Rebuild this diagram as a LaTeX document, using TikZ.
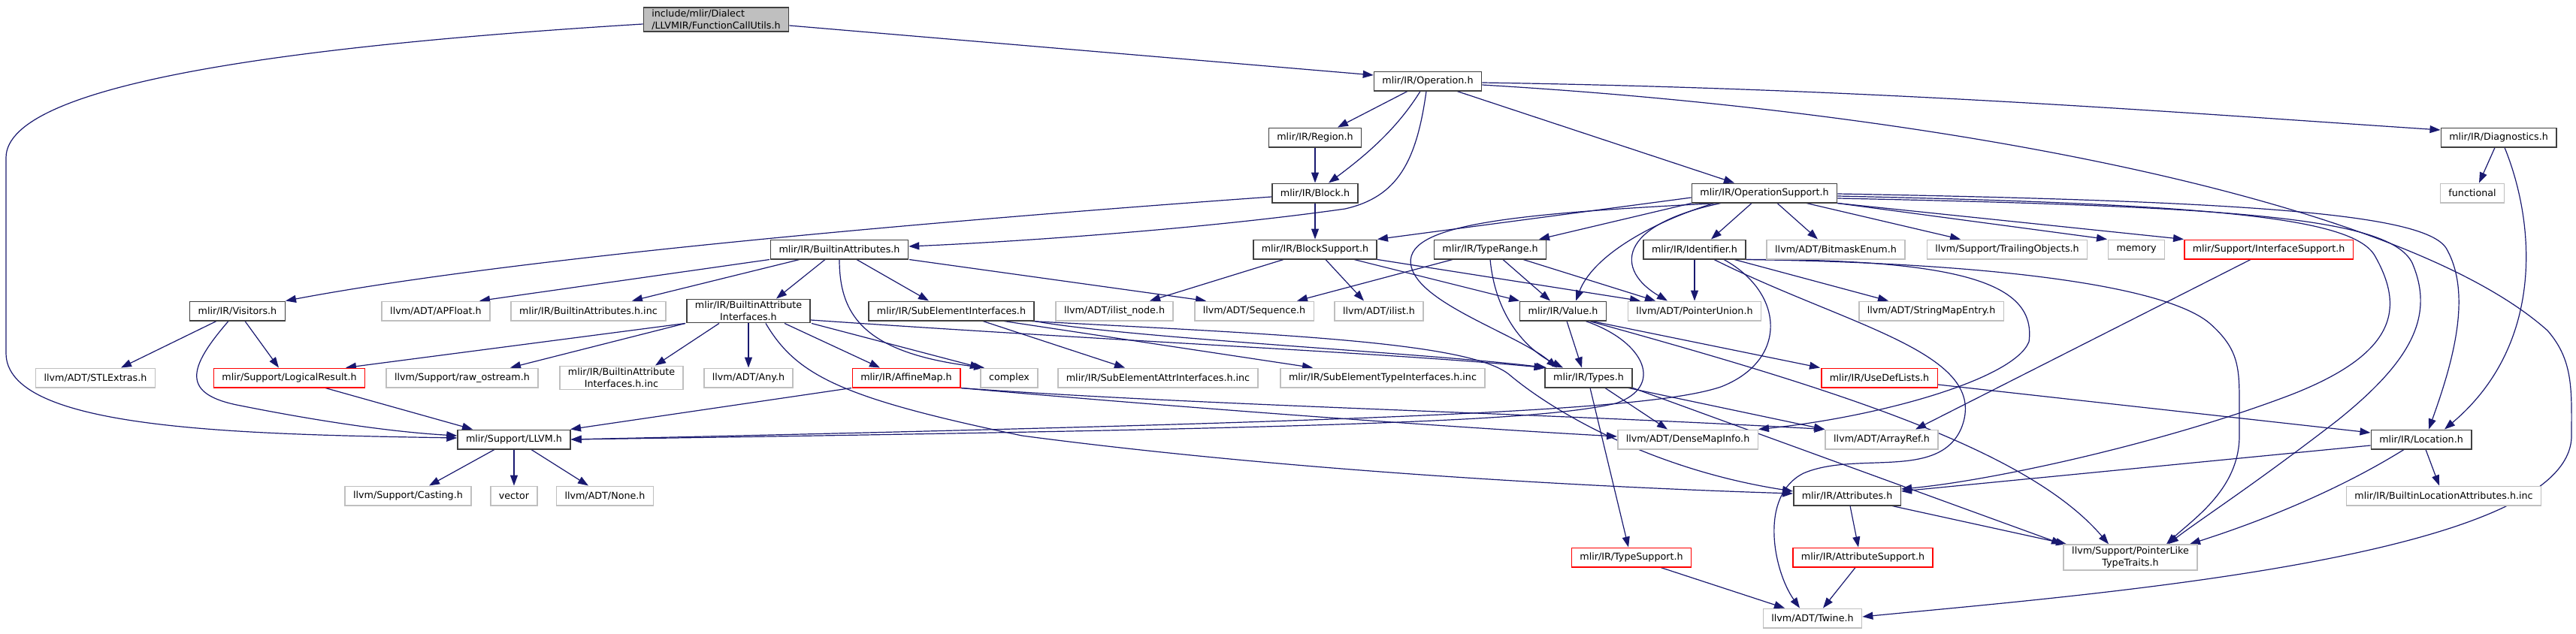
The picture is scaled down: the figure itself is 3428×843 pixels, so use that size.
\documentclass[tikz,border=0pt]{standalone}
\usepackage{fontspec}
\setmainfont{DejaVu Sans}
\usetikzlibrary{arrows.meta,backgrounds}
\definecolor{edgeblue}{RGB}{25,25,112}
\definecolor{boxgrey}{RGB}{191,191,191}
\definecolor{boxdark}{RGB}{64,64,64}
\definecolor{boxred}{RGB}{255,0,0}
\tikzset{
  hbox/.style={draw=boxdark,line width=1.5pt,fill=white,inner xsep=11pt,inner ysep=3pt,
    minimum height=25.5pt,align=center,font=\fontsize{12.7}{15.6}\selectfont},
  sysbox/.style={hbox,draw=boxgrey},
  cutbox/.style={hbox,draw=boxred},
  rootbox/.style={hbox,fill=boxgrey,align=left},
  dep/.style={draw=edgeblue,line width=1.2pt,-{Triangle[length=14pt,width=10pt]}},
}

\begin{document}
\begin{tikzpicture}[x=1pt,y=-1pt]
\useasboundingbox (0,0) rectangle (3428,843);
\node[rootbox] (fcu) at (953,26) {include/mlir/Dialect\\/LLVMIR/FunctionCallUtils.h};
\node[hbox] (op) at (1900,108) {mlir/IR/Operation.h};
\node[hbox] (region) at (1750,183) {mlir/IR/Region.h};
\node[hbox] (diag) at (3325,183) {mlir/IR/Diagnostics.h};
\node[hbox] (block) at (1750,257) {mlir/IR/Block.h};
\node[hbox] (opsup) at (2348,257) {mlir/IR/OperationSupport.h};
\node[sysbox] (functional) at (3290,257) {functional};
\node[hbox] (ba) at (1117,332) {mlir/IR/BuiltinAttributes.h};
\node[hbox] (blocksup) at (1750,332) {mlir/IR/BlockSupport.h};
\node[hbox] (typerange) at (1983,332) {mlir/IR/TypeRange.h};
\node[hbox] (ident) at (2255,332) {mlir/IR/Identifier.h};
\node[sysbox] (bitmask) at (2443,332) {llvm/ADT/BitmaskEnum.h};
\node[sysbox] (trailing) at (2671,332) {llvm/Support/TrailingObjects.h};
\node[sysbox] (memory) at (2843,332) {memory};
\node[cutbox] (ifacesup) at (3019,332) {mlir/Support/InterfaceSupport.h};
\node[hbox] (visitors) at (316,414) {mlir/IR/Visitors.h};
\node[sysbox] (apfloat) at (580,414) {llvm/ADT/APFloat.h};
\node[sysbox] (bainc) at (783,414) {mlir/IR/BuiltinAttributes.h.inc};
\node[hbox] (bai) at (996,414) {mlir/IR/BuiltinAttribute\\Interfaces.h};
\node[hbox] (sei) at (1266,414) {mlir/IR/SubElementInterfaces.h};
\node[sysbox] (ilistnode) at (1483,414) {llvm/ADT/ilist\_node.h};
\node[sysbox] (sequence) at (1669,414) {llvm/ADT/Sequence.h};
\node[sysbox] (ilist) at (1835,414) {llvm/ADT/ilist.h};
\node[hbox] (value) at (2080,414) {mlir/IR/Value.h};
\node[sysbox] (ptrunion) at (2255,414) {llvm/ADT/PointerUnion.h};
\node[sysbox] (strmap) at (2570,414) {llvm/ADT/StringMapEntry.h};
\node[sysbox] (stlextras) at (127,503) {llvm/ADT/STLExtras.h};
\node[cutbox] (logres) at (385,503) {mlir/Support/LogicalResult.h};
\node[sysbox] (rawos) at (615,503) {llvm/Support/raw\_ostream.h};
\node[sysbox] (baiinc) at (827,503) {mlir/IR/BuiltinAttribute\\Interfaces.h.inc};
\node[sysbox] (any) at (996,503) {llvm/ADT/Any.h};
\node[cutbox] (affine) at (1206,503) {mlir/IR/AffineMap.h};
\node[sysbox] (complex) at (1343,503) {complex};
\node[sysbox] (seattr) at (1541,503) {mlir/IR/SubElementAttrInterfaces.h.inc};
\node[sysbox] (setype) at (1840,503) {mlir/IR/SubElementTypeInterfaces.h.inc};
\node[hbox] (types) at (2114,503) {mlir/IR/Types.h};
\node[cutbox] (usedef) at (2501,503) {mlir/IR/UseDefLists.h};
\node[hbox] (llvm) at (684,585) {mlir/Support/LLVM.h};
\node[sysbox] (dense) at (2246,585) {llvm/ADT/DenseMapInfo.h};
\node[sysbox] (arrayref) at (2504,585) {llvm/ADT/ArrayRef.h};
\node[hbox] (location) at (3222,585) {mlir/IR/Location.h};
\node[sysbox] (casting) at (543,660) {llvm/Support/Casting.h};
\node[sysbox] (vector) at (684,660) {vector};
\node[sysbox] (none) at (805,660) {llvm/ADT/None.h};
\node[hbox] (attrs) at (2458,660) {mlir/IR/Attributes.h};
\node[sysbox] (blainc) at (3252,660) {mlir/IR/BuiltinLocationAttributes.h.inc};
\node[cutbox] (typesup) at (2171,742) {mlir/IR/TypeSupport.h};
\node[cutbox] (attrsup) at (2479,742) {mlir/IR/AttributeSupport.h};
\node[sysbox] (ptrlike) at (2835,742) {llvm/Support/PointerLike\\TypeTraits.h};
\node[sysbox] (twine) at (2412,823) {llvm/ADT/Twine.h};
\begin{scope}[on background layer]
\fill[white] (0,0) rectangle (3428,843);
\foreach \a/\sa/\b/\sb in {
op/-27/region/30, region/0/block/0, block/0/blocksup/0, op/39/opsup/-40,
diag/-5/functional/9, ba/-93/apfloat/58, ba/-53/bainc/58, ba/-19/bai/37, ba/23/sei/-30,
ba/93/sequence/-64, visitors/-28/stlextras/34, visitors/10/logres/-14, logres/48/llvm/-55,
bai/-84/logres/75, bai/-84/rawos/64, bai/-39/baiinc/45, bai/0/any/0, bai/48/affine/-35,
bai/84/complex/-38, sei/42/seattr/-44, sei/70/setype/-93, blocksup/-42/ilistnode/47,
blocksup/14/ilist/-20, blocksup/52/value/-58, blocksup/83/ptrunion/-72,
typerange/-50/sequence/57, typerange/17/value/-17, typerange/44/ptrunion/-52,
opsup/-97/typerange/65, opsup/-17/ident/22, opsup/17/bitmask/-24, opsup/56/trailing/-62,
opsup/97/memory/-39, opsup/97/ifacesup/-113, ident/0/ptrunion/0, ident/53/strmap/-57,
ifacesup/-24/arrayref/45, value/5/types/-9, value/38/usedef/-79, types/2/typesup/-4,
types/22/dense/-27, types/53/arrayref/-76, types/59/ptrlike/-91, affine/-73/llvm/75,
attrs/4/attrsup/-6, attrs/60/ptrlike/-85, typesup/39/twine/-37, attrsup/-10/twine/14,
location/6/blainc/-6, llvm/-26/casting/28, llvm/0/vector/0, llvm/23/none/-22}{
  \draw[dep] ([xshift=\sa pt]\a.south) -- ([xshift=\sb pt]\b.north);
}
\draw[dep] ([xshift=-10pt]op.south) .. controls (1860,170) and (1820,205) .. ([xshift=18pt]block.north);
\draw[dep] ([yshift=-8pt]fcu.east) -- ([yshift=8pt]op.west);
\draw[dep] ([yshift=-6pt]fcu.west) .. controls (400,60) and (8,110) .. (8,210) -- (8,470)
  .. controls (8,570) and (300,578) .. ([yshift=2pt]llvm.west);
\draw[dep] ([xshift=-2pt]op.south) .. controls (1885,215) and (1860,262) .. (1790,278)
  .. controls (1600,305) and (1350,322) .. ([yshift=4pt]ba.east);
\draw[dep] ([yshift=-2pt]op.east) .. controls (2500,118) and (2900,150) .. ([yshift=10pt]diag.west);
\draw[dep] ([yshift=-5pt]op.east) .. controls (2600,150) and (3200,270) .. (3390,440)
  .. controls (3425,480) and (3422,520) .. (3422,580)
  .. controls (3422,740) and (2800,790) .. ([yshift=2pt]twine.east);
\draw[dep] ([yshift=-5pt]block.west) .. controls (1300,290) and (700,340) .. (visitors.north east);
\draw[dep] (ba.south) .. controls (1117,420) and (1150,470) .. ([xshift=-33pt]complex.north);
\draw[dep] ([xshift=-12pt]visitors.south) .. controls (250,490) and (240,525) .. (320,540)
  .. controls (420,560) and (520,575) .. ([yshift=5pt]llvm.west);
\draw[dep] ([xshift=23pt]bai.south) .. controls (1060,500) and (1120,530) .. (1360,580)
  .. controls (1700,625) and (2100,648) .. ([yshift=3pt]attrs.west);
\draw[dep] ([yshift=-12pt]bai.east) .. controls (1500,455) and (1850,470) .. (types.north west);
\draw[dep] (sei.south east) .. controls (1500,450) and (1900,470) .. ([xshift=-56pt]types.north);
\draw[dep] ([xshift=105pt]sei.south) .. controls (1700,445) and (1960,455) .. (2010,500)
  .. controls (2070,550) and (2200,625) .. ([yshift=6pt]attrs.west);
\draw[dep] (typerange.south) .. controls (1990,420) and (2030,465) .. ([xshift=-34pt]types.north);
\draw[dep] ([yshift=-6pt]opsup.west) -- (blocksup.north east);
\draw[dep] ([xshift=-61pt]opsup.south) .. controls (2000,285) and (1865,300) .. (1878,355)
  .. controls (1890,405) and (2020,445) .. ([xshift=-42pt]types.north);
\draw[dep] ([xshift=-67pt]opsup.south) .. controls (2200,295) and (2120,340) .. ([xshift=17pt]value.north);
\draw[dep] ([xshift=-58pt]opsup.south) .. controls (2150,300) and (2150,360) .. ([xshift=-36pt]ptrunion.north);
\draw[dep] ([yshift=-4pt]opsup.east) .. controls (2950,272) and (3130,290) .. (3160,340)
  .. controls (3200,410) and (3190,470) .. (3050,525)
  .. controls (2880,590) and (2650,640) .. ([yshift=9pt]attrs.east);
\draw[dep] ([yshift=-7pt]opsup.east) .. controls (2980,275) and (3180,290) .. (3210,350)
  .. controls (3240,420) and (3210,480) .. (3110,560)
  .. controls (3000,645) and (2930,690) .. ([xshift=50pt]ptrlike.north);
\draw[dep] ([yshift=-1pt]opsup.east) .. controls (3000,268) and (3225,285) .. (3255,330)
  .. controls (3290,390) and (3265,480) .. ([xshift=10pt]location.north);
\draw[dep] ([xshift=26pt]ident.south) .. controls (2460,435) and (2650,470) .. (2610,570)
  .. controls (2580,640) and (2470,600) .. (2400,630)
  .. controls (2340,660) and (2360,760) .. ([xshift=-17pt]twine.north);
\draw[dep] ([xshift=39pt]ident.south) .. controls (2375,390) and (2380,480) .. (2290,515)
  .. controls (2200,545) and (1900,560) .. (llvm.east);
\draw[dep] (ident.south east) .. controls (2620,345) and (2710,380) .. (2700,455)
  .. controls (2680,505) and (2500,555) .. (dense.north east);
\draw[dep] (ident.south east) .. controls (2650,350) and (2880,380) .. (2940,430)
  .. controls (2980,465) and (2980,490) .. (2980,540) -- (2980,580)
  .. controls (2980,650) and (2920,690) .. ([xshift=48pt]ptrlike.north);
\draw[dep] ([xshift=30pt]value.south) .. controls (2190,455) and (2215,515) .. (2150,537)
  .. controls (2050,560) and (1800,570) .. (llvm.east);
\draw[dep] ([xshift=35pt]value.south) .. controls (2450,520) and (2700,600) .. ([xshift=-29pt]ptrlike.north);
\draw[dep] (affine.south east) .. controls (1600,545) and (1950,570) .. ([yshift=4pt]dense.west);
\draw[dep] (affine.south east) .. controls (1600,540) and (2050,550) .. (arrayref.north west);
\draw[dep] ([yshift=-9pt]usedef.east) -- ([yshift=9pt]location.west);
\draw[dep] ([yshift=-8pt]location.west) -- ([yshift=6pt]attrs.east);
\draw[dep] ([xshift=-23pt]location.south) .. controls (3100,660) and (2990,700) .. ([xshift=79pt]ptrlike.north);
\draw[dep] ([xshift=8pt]diag.south) .. controls (3375,300) and (3385,460) .. ([xshift=31pt]location.north);
\end{scope}
\end{tikzpicture}
\end{document}
